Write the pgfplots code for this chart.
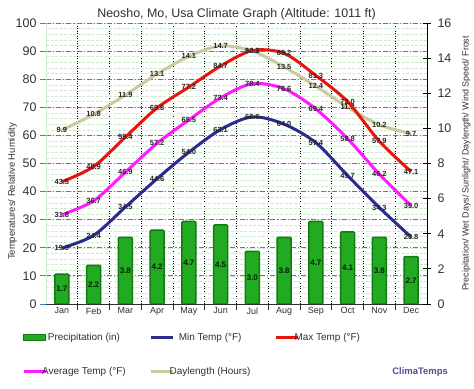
\documentclass[border=0pt]{standalone}
\usepackage{pgfplots}
\pgfplotsset{compat=1.18}
\usepackage{fontspec}
\setmainfont{Liberation Sans}
\definecolor{barfill}{HTML}{22AA22}
\definecolor{barline}{HTML}{137A13}
\definecolor{minc}{HTML}{2B2B8C}
\definecolor{maxc}{HTML}{E8150F}
\definecolor{avgc}{HTML}{FF1AFF}
\definecolor{dayc}{HTML}{CACAA0}
\definecolor{gridblue}{HTML}{3F7FE0}
\definecolor{gridgreen}{HTML}{CDEBCD}
\definecolor{brand}{HTML}{5C4A8F}
\definecolor{txt}{HTML}{303030}
\pgfplotsset{
  common/.style={
    scale only axis, width=381bp, height=281bp,
    at={(0,0)}, anchor=south west,
    xmin=0.5, xmax=12.5,
    /pgf/number format/assume math mode=true,
  },
  lbl/.style={
    nodes near coords={\pgfmathprintnumber[fixed,fixed zerofill,precision=1,assume math mode=true]{\pgfplotspointmeta}},
    every node near coord/.append style={font=\fontsize{7.5}{8}\selectfont\bfseries, text=black!85, anchor=center, inner sep=0.5bp},
  },
}
\begin{document}
\begin{tikzpicture}
% ---------- axis 0: light minor lines and vertical dotted separators ----------
\begin{axis}[common,
  ymin=0, ymax=100,
  axis line style={draw=none},
  ytick={0,2,...,100}, yticklabels={},
  xtick={1.5,2.5,...,11.5}, xticklabels={},
  major tick length=0pt,
  xmajorgrids, ymajorgrids,
  every axis x grid/.style={black, dash pattern=on 1bp off 1.5bp, line width=0.6bp},
  every axis y grid/.style={gridgreen, dash pattern=on 3bp off 1.5bp, line width=0.5bp},
]
\end{axis}
% ---------- axis 1: left scale, blue grid, x labels ----------
\begin{axis}[common,
  ymin=0, ymax=100,
  axis y line*=left, axis x line*=bottom,
  y axis line style={gridgreen, line width=0.8bp},
  x axis line style={txt, line width=0.8bp},
  ytick={0,10,...,100},
  ymajorgrids,
  every axis y grid/.style={draw=gridblue, dash pattern=on 5bp off 2bp on 1.2bp off 2bp, line width=0.8bp},
  ytick style={gridblue, line width=0.8bp},
  major tick length=6bp, tick align=outside,
  yticklabel style={font=\fontsize{12.5}{14}\selectfont, text=txt},
  xtick={1.5,2.5,...,11.5},
  xticklabels={},
  xtick style={txt, line width=0.6bp},
  extra x ticks={1,...,12},
  extra x tick labels={Jan,Feb,Mar,Apr,May,Jun,Jul,Aug,Sep,Oct,Nov,Dec},
  extra x tick style={major tick length=0pt, tick style={draw=none}},
  xticklabel style={font=\fontsize{9}{11}\selectfont, text=txt},
  ylabel={Temperatures/ Relative Humidity},
  ylabel style={font=\fontsize{9.5}{11}\selectfont, text=txt, at={(ticklabel cs:0.40)}, yshift=-8bp},
  title={Neosho, Mo, Usa Climate Graph (Altitude: 1011 ft)},
  title style={font=\fontsize{12.5}{14}\selectfont, text=txt, yshift=-7bp},
]
\end{axis}
% ---------- axis 2: right scale, bars and daylength ----------
\begin{axis}[common,
  ymin=0, ymax=16,
  axis y line*=right, axis x line=none,
  y axis line style={black, line width=0.8bp},
  ytick={0,2,...,16},
  ytick style={black, line width=0.8bp},
  major tick length=8bp, tick align=center,
  yticklabel style={font=\fontsize{12.5}{14}\selectfont, text=txt, xshift=3bp},
  ylabel={Precipitation/ Wet Days/ Sunlight/ Daylength/ Wind Speed/ Frost},
  ylabel style={font=\fontsize{9}{11}\selectfont, text=txt, yshift=-4bp},
]
\addplot[ybar, bar width=14bp, fill=barfill, draw=barline, line width=1.5bp,
  rounded corners=1bp, lbl,
  visualization depends on={y \as \rawy},
  every node near coord/.append style={shift={(axis direction cs:0,-\rawy/2)}, font=\fontsize{8}{9}\selectfont\bfseries, text=black!75!barline}]
coordinates {(1,1.7) (2,2.2) (3,3.8) (4,4.2) (5,4.7) (6,4.5) (7,3.0) (8,3.8) (9,4.7) (10,4.1) (11,3.8) (12,2.7)};
\addplot[dayc, line width=3bp, smooth, lbl]
coordinates {(1,9.9) (2,10.8) (3,11.9) (4,13.1) (5,14.1) (6,14.7) (7,14.4) (8,13.5) (9,12.4) (10,11.2) (11,10.2) (12,9.7)};
\end{axis}
% ---------- axis 3: temperatures and legend ----------
\begin{axis}[common,
  ymin=0, ymax=100, hide axis, clip=false,
  legend columns=3,
  legend image code/.code={\draw[#1] (0bp,0bp) -- (22bp,0bp);},
  legend style={at={(-0.063,-0.100)}, anchor=north west, draw=none, fill=none,
    font=\fontsize{10}{12}\selectfont, text=txt, inner sep=0pt,
    row sep=23bp, nodes={inner xsep=0bp, inner ysep=1bp}},
  /tikz/every odd column/.append style={column sep=-5bp},
  /tikz/every even column/.append style={column sep=24bp},
]
\addlegendimage{legend image code/.code={\draw[fill=barfill,draw=barline,line width=1.2bp] (0bp,-3bp) rectangle (22bp,3bp);}}
\addlegendentry{Precipitation (in)}
\addlegendimage{draw=minc, line width=3bp}
\addlegendentry{Min Temp (°F)}
\addlegendimage{draw=maxc, line width=3bp}
\addlegendentry{Max Temp (°F)}
\addlegendimage{draw=avgc, line width=3bp}
\addlegendentry{Average Temp (°F)}
\addlegendimage{draw=dayc, line width=3bp}
\addlegendentry{Daylength (Hours)}
\addplot[minc, line width=3bp, smooth, lbl, forget plot]
coordinates {(1,19.9) (2,24.4) (3,34.5) (4,44.6) (5,54.0) (6,62.1) (7,66.6) (8,64.0) (9,57.4) (10,45.7) (11,34.3) (12,23.8)};
\addplot[avgc, line width=3bp, smooth, lbl, forget plot]
coordinates {(1,31.8) (2,36.7) (3,46.9) (4,57.2) (5,65.5) (6,73.4) (7,78.4) (8,76.6) (9,69.4) (10,58.8) (11,46.2) (12,35.0)};
\addplot[maxc, line width=3bp, smooth, lbl, forget plot]
coordinates {(1,43.5) (2,48.9) (3,59.4) (4,69.8) (5,77.2) (6,84.7) (7,90.2) (8,89.2) (9,81.3) (10,72.0) (11,57.9) (12,47.1)};
\node[font=\fontsize{9.5}{11}\selectfont\bfseries, text=brand] at (rel axis cs:0.982,-0.242) {ClimaTemps};
\end{axis}
\pgfresetboundingbox
\path[use as bounding box] (-46bp,-85bp) rectangle (428bp,304bp);
\end{tikzpicture}
\end{document}
